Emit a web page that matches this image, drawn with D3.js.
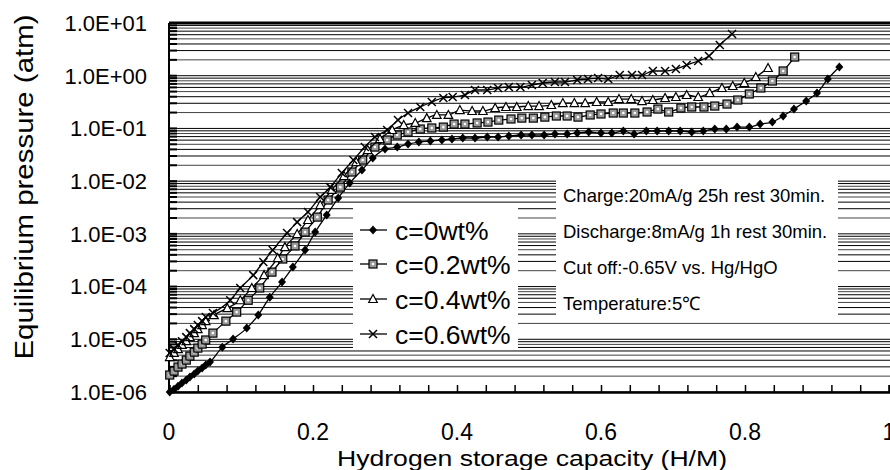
<!DOCTYPE html>
<html>
<head>
<meta charset="utf-8">
<script src="https://cdn.jsdelivr.net/npm/d3@7"></script>
<style>
	body { margin: 0; background: #fff; }
	text { font-family: Arial, "Liberation Sans", sans-serif; fill: #000; }
</style>
</head>
<body>
<svg id="chart" width="890" height="470"></svg>
<script>
// [H/M, pressure atm]
const c0 = [
	[0.001,1.0e-6],[0.007,1.13e-6],[0.0125,1.29e-6],[0.018,1.48e-6],[0.024,1.68e-6],[0.029,1.92e-6],
	[0.035,2.19e-6],[0.040,2.49e-6],[0.046,2.84e-6],[0.051,3.24e-6],[0.057,3.69e-6],[0.074,7.1e-6],
	[0.089,1.01e-5],[0.108,1.63e-5],[0.124,2.88e-5],[0.140,6.3e-5],[0.157,1.22e-4],[0.172,2.34e-4],
	[0.189,4.93e-4],[0.203,1.08e-3],[0.219,2.28e-3],[0.235,4.78e-3],[0.251,9.2e-3],[0.268,1.63e-2],
	[0.283,2.74e-2],[0.300,4.07e-2],[0.317,4.43e-2],[0.332,0.0506],[0.347,0.0552],[0.363,0.0577],
	[0.379,0.0603],[0.393,0.063],[0.408,0.0658],[0.425,0.0658],[0.442,0.0687],[0.457,0.0687],
	[0.472,0.0718],[0.489,0.075],[0.504,0.075],[0.521,0.075],[0.536,0.0783],[0.553,0.0783],
	[0.567,0.0818],[0.583,0.0855],[0.600,0.0818],[0.615,0.0818],[0.631,0.0893],[0.646,0.0783],
	[0.663,0.0893],[0.678,0.0893],[0.694,0.0893],[0.710,0.0893],[0.726,0.0855],[0.742,0.0893],
	[0.758,0.0975],[0.774,0.0975],[0.789,0.106],[0.806,0.106],[0.821,0.121],[0.838,0.132],
	[0.853,0.172],[0.868,0.233],[0.885,0.331],[0.900,0.47],[0.915,0.865],[0.931,1.46]
];
const c02 = [
	[0.001,2.1e-6],[0.007,2.49e-6],[0.0125,2.97e-6],[0.018,3.39e-6],[0.024,4.03e-6],[0.029,4.8e-6],
	[0.035,5.7e-6],[0.040,6.8e-6],[0.046,8.1e-6],[0.051,9.7e-6],[0.061,1.31e-5],[0.079,2.21e-5],
	[0.094,3.28e-5],[0.110,5.5e-5],[0.126,9.4e-5],[0.143,1.88e-4],[0.158,3.33e-4],[0.175,5.9e-4],
	[0.189,1.08e-3],[0.206,2.08e-3],[0.221,4.38e-3],[0.238,7.7e-3],[0.254,1.49e-2],[0.269,2.51e-2],
	[0.286,4.43e-2],[0.303,0.0603],[0.317,0.075],[0.332,0.0855],[0.349,0.0975],[0.365,0.102],
	[0.381,0.106],[0.396,0.121],[0.411,0.121],[0.428,0.127],[0.443,0.132],[0.458,0.144],
	[0.475,0.151],[0.490,0.157],[0.506,0.157],[0.522,0.164],[0.538,0.172],[0.553,0.172],
	[0.568,0.164],[0.585,0.18],[0.600,0.188],[0.617,0.196],[0.631,0.196],[0.647,0.196],
	[0.664,0.205],[0.679,0.233],[0.694,0.205],[0.711,0.244],[0.726,0.255],[0.743,0.255],
	[0.758,0.266],[0.775,0.29],[0.790,0.346],[0.806,0.45],[0.822,0.585],[0.838,0.793],
	[0.853,1.23],[0.869,2.26]
];
const c04 = [
	[0.001,4.6e-6],[0.007,5.5e-6],[0.0125,6.5e-6],[0.018,7.8e-6],[0.024,9.2e-6],[0.029,1.1e-5],
	[0.035,1.31e-5],[0.040,1.56e-5],[0.046,1.86e-5],[0.051,2.21e-5],[0.0625,2.88e-5],[0.081,3.9e-5],
	[0.099,5.5e-5],[0.115,9.4e-5],[0.132,1.65e-4],[0.151,3.47e-4],[0.161,5.6e-4],[0.178,9.9e-4],
	[0.193,1.83e-3],[0.210,3.52e-3],[0.226,6.8e-3],[0.243,1.25e-2],[0.260,2.3e-2],[0.276,3.89e-2],
	[0.293,0.063],[0.310,0.0933],[0.326,0.116],[0.342,0.127],[0.358,0.157],[0.372,0.18],
	[0.388,0.18],[0.404,0.223],[0.421,0.214],[0.436,0.214],[0.453,0.244],[0.468,0.255],
	[0.483,0.255],[0.499,0.266],[0.514,0.266],[0.531,0.278],[0.547,0.303],[0.563,0.303],
	[0.578,0.303],[0.594,0.317],[0.610,0.317],[0.625,0.361],[0.642,0.361],[0.657,0.331],
	[0.672,0.346],[0.689,0.378],[0.704,0.395],[0.719,0.431],[0.735,0.395],[0.751,0.47],
	[0.768,0.585],[0.783,0.638],[0.799,0.727],[0.815,0.945],[0.832,1.4]
];
const c06 = [
	[0.001,5.5e-6],[0.007,6.5e-6],[0.0125,7.8e-6],[0.018,9.2e-6],[0.024,1.1e-5],[0.029,1.31e-5],
	[0.035,1.56e-5],[0.040,1.86e-5],[0.046,2.21e-5],[0.051,2.64e-5],[0.061,3.14e-5],[0.085,5.5e-5],
	[0.099,9.4e-5],[0.117,1.65e-4],[0.131,2.92e-4],[0.144,4.93e-4],[0.164,1.04e-3],[0.178,1.67e-3],
	[0.193,2.6e-3],[0.210,4.99e-3],[0.224,7.7e-3],[0.240,1.43e-2],[0.256,2.51e-2],[0.272,4.43e-2],
	[0.286,0.0687],[0.303,0.0933],[0.318,0.144],[0.332,0.196],[0.349,0.255],[0.365,0.317],
	[0.381,0.378],[0.394,0.395],[0.411,0.431],[0.425,0.536],[0.442,0.536],[0.457,0.585],
	[0.472,0.611],[0.488,0.611],[0.504,0.667],[0.519,0.727],[0.536,0.76],[0.550,0.76],
	[0.567,0.829],[0.582,0.865],[0.596,0.904],[0.610,0.865],[0.626,1.03],[0.643,1.03],
	[0.657,1.03],[0.672,1.23],[0.689,1.23],[0.704,1.34],[0.719,1.6],[0.735,1.9],
	[0.750,2.37],[0.765,3.83],[0.782,6.2]
];

const seriesNames = ["c=0wt%", "c=0.2wt%", "c=0.4wt%", "c=0.6wt%"];
const markerTypes = ["diamond", "square", "triangle", "cross"];
const xTicks = [0, 0.2, 0.4, 0.6, 0.8, 1];
const yTicks = [1e-6, 1e-5, 1e-4, 1e-3, 1e-2, 1e-1, 1, 10];
const yTickLabels = ["1.0E-06", "1.0E-05", "1.0E-04", "1.0E-03", "1.0E-02", "1.0E-01", "1.0E+00", "1.0E+01"];
const notes = [
	"Charge:20mA/g 25h rest 30min.",
	"Discharge:8mA/g 1h rest 30min.",
	"Cut off:-0.65V vs. Hg/HgO",
	"Temperature:5\u2103"
];

const svg = d3.select("#chart");
const plotLeft = 169, plotRight = 889, plotTop = 23, plotBottom = 392;

const x = d3.scaleLinear().domain([0, 1]).range([plotLeft, plotRight]);
const y = d3.scaleLog().domain([1e-6, 10]).range([plotBottom, plotTop]);

// horizontal grid, 1..9 per decade
const gridVals = [];
for (let e = -6; e <= 0; e++)
	for (let k = 1; k <= 9; k++) gridVals.push(k * Math.pow(10, e));
gridVals.push(10);

svg.append("g").selectAll("line")
	.data(gridVals)
	.enter().append("line")
	.attr("x1", plotLeft).attr("x2", 890)
	.attr("y1", d => y(d)).attr("y2", d => y(d))
	.attr("stroke", (d, i) => i % 3 === 1 ? "#444" : "#000")
	.attr("stroke-width", 1);

// y ticks (inside, thick stubs)
svg.append("g").selectAll("line")
	.data(gridVals)
	.enter().append("line")
	.attr("x1", plotLeft).attr("x2", plotLeft + 8)
	.attr("y1", d => y(d)).attr("y2", d => y(d))
	.attr("stroke", "#000").attr("stroke-width", 2);

// frame
svg.append("line").attr("x1", plotLeft).attr("x2", 890).attr("y1", plotTop).attr("y2", plotTop)
	.attr("stroke", "#000").attr("stroke-width", 3);
svg.append("line").attr("x1", plotLeft).attr("x2", plotLeft).attr("y1", plotTop).attr("y2", plotBottom)
	.attr("stroke", "#000").attr("stroke-width", 2);

// x axis with inward ticks
const xAxis = d3.axisBottom(x).tickValues(d3.range(0, 1.001, 0.04)).tickSize(-7).tickFormat("");
const gx = svg.append("g").attr("transform", `translate(0,${plotBottom})`).call(xAxis);
gx.select(".domain").attr("stroke-width", 2.5);
gx.selectAll(".tick line").attr("stroke-width", 1.5);

svg.append("g").selectAll("text")
	.data(xTicks)
	.enter().append("text")
	.attr("x", d => x(d)).attr("y", 440)
	.attr("text-anchor", "middle")
	.style("font-size", "23px")
	.text(d => d === 0 ? "0" : d === 1 ? "1" : d.toFixed(1));

svg.append("g").selectAll("text")
	.data(yTicks)
	.enter().append("text")
	.attr("x", 147).attr("y", d => y(d))
	.attr("dy", "0.36em")
	.attr("text-anchor", "end")
	.style("font-size", "22px")
	.text((d, i) => yTickLabels[i]);

svg.append("text")
	.attr("x", 532).attr("y", 466)
	.attr("text-anchor", "middle")
	.attr("textLength", 390)
	.attr("lengthAdjust", "spacingAndGlyphs")
	.style("font-size", "22px")
	.text("Hydrogen storage capacity (H/M)");

svg.append("text")
	.attr("transform", "translate(33,187) rotate(-90)")
	.attr("text-anchor", "middle")
	.attr("textLength", 345)
	.attr("lengthAdjust", "spacingAndGlyphs")
	.style("font-size", "25px")
	.text("Equilibrium pressure (atm)");

// white boxes for legend and notes
svg.append("rect").attr("x", 353).attr("y", 208).attr("width", 165).attr("height", 142).attr("fill", "#fff");
svg.append("rect").attr("x", 556).attr("y", 176).attr("width", 282).attr("height", 146).attr("fill", "#fff");

svg.append("g").selectAll("text")
	.data(notes)
	.enter().append("text")
	.attr("x", 563).attr("y", (d, i) => 195 + i * 36)
	.attr("dy", "0.36em")
	.style("font-size", "18.5px")
	.text(d => d);

function drawMarker(sel, type) {
	if (type === "diamond") {
		sel.append("path").attr("d", "M0,-4.5L4,0L0,4.5L-4,0Z").attr("fill", "#000");
	} else if (type === "square") {
		sel.append("rect").attr("x", -4).attr("y", -4).attr("width", 8).attr("height", 8)
			.attr("fill", "#999").attr("stroke", "#000").attr("stroke-width", 1.2);
		sel.append("circle").attr("r", 1.3).attr("fill", "#fff");
	} else if (type === "triangle") {
		sel.append("path").attr("d", "M0,-4.5L4.3,3.5L-4.3,3.5Z")
			.attr("fill", "#fff").attr("stroke", "#000").attr("stroke-width", 1.2);
	} else {
		sel.append("path").attr("d", "M-4,-4L4,4M-4,4L4,-4")
			.attr("stroke", "#000").attr("stroke-width", 1.5);
	}
}

const line = d3.line().x(d => x(d[0])).y(d => y(d[1])).curve(d3.curveMonotoneX);
const allSeries = [c0, c02, c04, c06];

allSeries.forEach((data, i) => {
	const g = svg.append("g");
	g.append("path").datum(data)
		.attr("d", line)
		.attr("fill", "none").attr("stroke", "#000").attr("stroke-width", 1.3);
	g.selectAll(".pt")
		.data(data)
		.enter().append("g")
		.attr("class", "pt")
		.attr("transform", d => `translate(${x(d[0])},${y(d[1])})`)
		.each(function() { drawMarker(d3.select(this), markerTypes[i]); });
});

// legend
const legendY = [230, 264, 299, 334];
seriesNames.forEach((name, i) => {
	const g = svg.append("g").attr("transform", `translate(0,${legendY[i]})`);
	g.append("line").attr("x1", 360).attr("x2", 387).attr("stroke", "#000").attr("stroke-width", 1.3);
	const m = g.append("g").attr("transform", "translate(373,0)");
	drawMarker(m, markerTypes[i]);
	g.append("text").attr("x", 395).attr("dy", "0.36em")
		.style("font-size", "26.5px").text(name);
});
</script>
</body>
</html>
